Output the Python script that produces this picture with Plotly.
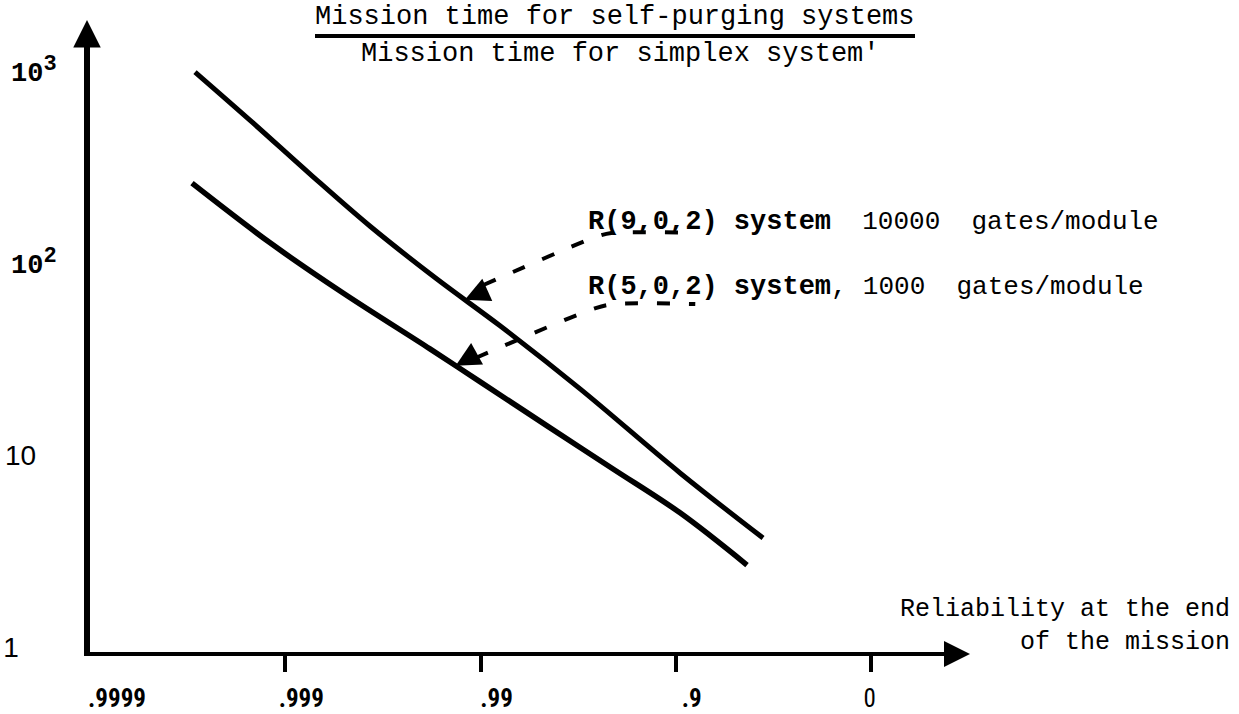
import numpy as np
import plotly.graph_objects as go

# ---------------- data ----------------
# reliability at the end of the mission (x) and mission-time ratio (y)
r9_reliability = [0.999655, 0.999316, 0.99866, 0.99728, 0.99402, 0.98741, 0.96764, 0.8948, 0.7201]
r9_ratio = [1023, 556, 301, 161, 85.5, 48.8, 22.9, 8.36, 3.83]

r5_reliability = [0.999667, 0.999164, 0.998023, 0.99449, 0.99007, 0.97807, 0.95225, 0.8948, 0.7683]
r5_ratio = [270, 132, 72.3, 37.0, 25.0, 14.7, 8.77, 5.18, 2.77]

x_tick_reliability = [0.999, 0.99, 0.9, 0.0]
x_tick_labels = [".999", ".99", ".9", "0"]
x_origin_reliability = 0.9999
x_origin_label = ".9999"
y_tick_values = [1, 10, 100, 1000]

# arrow tips of the label leaders (reliability on each curve)
r9_tip_reliability = 0.99168
r5_tip_reliability = 0.99254


def xpos(rel):
    return np.log10(1.0 - np.asarray(rel, dtype=float))


def ypos(v):
    return np.log10(np.asarray(v, dtype=float))


# ---------------- layout geometry ----------------
W, H = 1239, 714
PL, PR, PT, PB = 90, 950, 40, 652
X_PER_DEC, Y_PER_DEC = 195.25, 192.0
Y_ORIGIN_PX = 654.0   # pixel of ratio 1

x_lo = -4.0
x_hi = x_lo + (PR - PL) / X_PER_DEC
y_lo = -(Y_ORIGIN_PX - PB) / Y_PER_DEC
y_hi = y_lo + (PB - PT) / Y_PER_DEC


def paper_x(px):
    return (px - PL) / (PR - PL)


def paper_y(py):
    return (PB - py) / (PB - PT)


MONO = "Liberation Mono, Courier New, monospace"
NARROW = "Liberation Sans Narrow, Arial Narrow, Roboto Condensed, sans-serif"

fig = go.Figure()

ux, uy = xpos(r9_reliability), ypos(r9_ratio)
lx, ly = xpos(r5_reliability), ypos(r5_ratio)

fig.add_trace(go.Scatter(x=ux, y=uy, mode="lines", line=dict(color="black", width=5, shape="spline", smoothing=1.0),
                         hoverinfo="skip", showlegend=False))
fig.add_trace(go.Scatter(x=lx, y=ly, mode="lines", line=dict(color="black", width=5.5, shape="spline", smoothing=1.0),
                         hoverinfo="skip", showlegend=False))
# carrier for the second (label-only) x axis
fig.add_trace(go.Scatter(x=[None], y=[None], xaxis="x2", mode="lines", hoverinfo="skip", showlegend=False))


def tip_on(curve_x, curve_y, rel):
    tx = float(xpos(rel))
    ty = float(np.interp(tx, curve_x, curve_y))
    return tx, ty


u_tip = tip_on(ux, uy, r9_tip_reliability)
l_tip = tip_on(lx, ly, r5_tip_reliability)

# leader lines (dashed) from labels to curves, in axis units
r9_leader_x = [-1.985, -1.41, -1.33, -0.90]
r9_leader_y = [1.901, 2.151, 2.172, 2.172]
r5_leader_x = [-2.025, -1.41, -1.315, -0.90]
r5_leader_y = [1.521, 1.781, 1.802, 1.802]

for lxs, lys in [(r9_leader_x, r9_leader_y), (r5_leader_x, r5_leader_y)]:
    fig.add_trace(go.Scatter(x=lxs, y=lys, mode="lines",
                             line=dict(color="black", width=4, dash="13px,19px", shape="spline", smoothing=0.8),
                             hoverinfo="skip", showlegend=False))

annotations = []
for (tx, ty), (ax, ay) in [(u_tip, (18, -8)), (l_tip, (18, -10))]:
    annotations.append(dict(x=tx, y=ty, xref="x", yref="y", ax=ax, ay=ay, text="",
                            showarrow=True, arrowhead=2, arrowsize=1.4, arrowwidth=3.5, arrowcolor="black"))

# axis arrowheads
annotations.append(dict(x=paper_x(87), y=paper_y(20), xref="paper", yref="paper", ax=0, ay=26, text="",
                        showarrow=True, arrowhead=2, arrowsize=1.1, arrowwidth=5, arrowcolor="black"))
annotations.append(dict(x=paper_x(970), y=paper_y(654), xref="paper", yref="paper", ax=-24, ay=0, text="",
                        showarrow=True, arrowhead=2, arrowsize=1.3, arrowwidth=4, arrowcolor="black"))

# title (fraction)
annotations.append(dict(x=paper_x(615), y=paper_y(17), xref="paper", yref="paper", xanchor="center", yanchor="middle",
                        text="Mission time for self-purging systems", showarrow=False,
                        font=dict(family=MONO, size=27, color="black")))
annotations.append(dict(x=paper_x(620), y=paper_y(54), xref="paper", yref="paper", xanchor="center", yanchor="middle",
                        text="Mission time for simplex system'", showarrow=False,
                        font=dict(family=MONO, size=27, color="black")))

# curve labels
annotations.append(dict(x=paper_x(586), y=paper_y(222), xref="paper", yref="paper", xanchor="left", yanchor="middle",
                        text="<b>R(9,0,2) system</b><span style='font-size:26px'>  10000  gates/module</span>",
                        showarrow=False, font=dict(family=MONO, size=27, color="black")))
annotations.append(dict(x=paper_x(586), y=paper_y(287), xref="paper", yref="paper", xanchor="left", yanchor="middle",
                        text="<b>R(5,0,2) system</b>,<span style='font-size:26px'> 1000  gates/module</span>",
                        showarrow=False, font=dict(family=MONO, size=27, color="black")))

# x axis title
annotations.append(dict(x=paper_x(1232), y=paper_y(626), xref="paper", yref="paper", xanchor="right", yanchor="middle",
                        text="Reliability at the end<br>of the mission", align="right",
                        showarrow=False, font=dict(family=MONO, size=25, color="black")))

shapes = [dict(type="line", xref="paper", yref="paper", x0=paper_x(315), x1=paper_x(915),
               y0=paper_y(36), y1=paper_y(36), line=dict(color="black", width=4))]

NB = "&nbsp;"
x_ticktext = []
for lab in x_tick_labels:
    if lab == "0":
        x_ticktext.append("<span style='font-weight:normal'>0</span>" + NB * 6)
    else:
        x_ticktext.append("<b>" + lab + "</b>")

THIN = "font-family:Liberation Sans Narrow, Arial Narrow, sans-serif;font-size:28px"
y_ticktext = [
    "<span style='" + THIN + "'>1</span><span style='font-size:21px'>" + NB * 3 + "</span>",
    "<span style='" + THIN + "'>10</span><span style='font-size:17px'>" + NB * 2 + "</span>",
    "<b>10<sup><span style='font-size:22px'>2</span></sup></b>",
    "<b>10<sup><span style='font-size:22px'>3</span></sup></b>",
]

xfont = dict(family=NARROW, size=25, color="black")

fig.update_layout(
    width=W, height=H,
    margin=dict(l=PL, r=W - PR, t=PT, b=H - PB, pad=0, autoexpand=False),
    paper_bgcolor="white", plot_bgcolor="white",
    showlegend=False,
    xaxis=dict(range=[x_lo, x_hi], showgrid=False, zeroline=False, automargin=False,
               showline=True, linecolor="black", linewidth=4,
               tickmode="array", tickvals=list(xpos(x_tick_reliability)), ticktext=x_ticktext,
               ticks="outside", ticklen=16, tickwidth=4, tickcolor="black",
               ticklabelshift=16, ticklabelstandoff=5,
               tickfont=xfont, fixedrange=True),
    xaxis2=dict(range=[x_lo, x_hi], overlaying="x", anchor="y", side="bottom", matches="x",
                showgrid=False, zeroline=False, automargin=False, showline=False,
                tickmode="array", tickvals=[float(xpos(x_origin_reliability))],
                ticktext=["<b>" + x_origin_label + "</b>"],
                ticks="", ticklabelshift=27, ticklabelstandoff=29,
                tickfont=xfont, fixedrange=True),
    yaxis=dict(range=[y_lo, y_hi], showgrid=False, zeroline=False, automargin=False,
               showline=True, linecolor="black", linewidth=6,
               tickmode="array", tickvals=list(ypos(y_tick_values)), ticktext=y_ticktext,
               ticks="", ticklabelshift=-2, ticklabelstandoff=22,
               tickfont=dict(family=MONO, size=27, color="black"), fixedrange=True),
    annotations=annotations,
    shapes=shapes,
)

fig.write_html("out.html")
